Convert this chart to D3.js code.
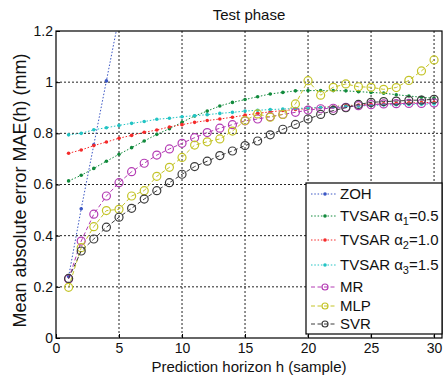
<!DOCTYPE html>
<html>
<head>
<meta charset="utf-8">
<script src="https://cdn.jsdelivr.net/npm/d3@7"></script>
<style>
  html, body { margin: 0; padding: 0; background: #fff; }
  svg { display: block; font-family: "Liberation Sans", Arial, sans-serif; }
</style>
</head>
<body>
<svg id="chart" width="444" height="378"></svg>
<script>
// Prediction horizon h (samples)
const horizon = d3.range(1, 31);

// Mean absolute error per horizon for each predictor (mm)
const zoh = [0.24, 0.505, 0.755, 1.005, 1.255, 1.505];
const tvsar1 = [0.614, 0.636, 0.663, 0.691, 0.718, 0.744, 0.770, 0.796, 0.818, 0.843,
  0.868, 0.887, 0.907, 0.921, 0.932, 0.943, 0.954, 0.960, 0.966, 0.967,
  0.967, 0.967, 0.966, 0.963, 0.960, 0.957, 0.951, 0.946, 0.941, 0.937];
const tvsar2 = [0.722, 0.735, 0.752, 0.766, 0.781, 0.792, 0.804, 0.813, 0.825, 0.834,
  0.843, 0.850, 0.856, 0.863, 0.871, 0.878, 0.884, 0.889, 0.893, 0.897,
  0.901, 0.905, 0.908, 0.911, 0.913, 0.915, 0.917, 0.919, 0.920, 0.921];
const tvsar3 = [0.794, 0.800, 0.814, 0.822, 0.831, 0.839, 0.846, 0.855, 0.859, 0.865,
  0.869, 0.873, 0.878, 0.882, 0.887, 0.890, 0.893, 0.895, 0.897, 0.899,
  0.901, 0.903, 0.905, 0.907, 0.909, 0.911, 0.912, 0.913, 0.914, 0.915];
const mr = [0.231, 0.379, 0.484, 0.555, 0.607, 0.650, 0.683, 0.715, 0.739, 0.761,
  0.783, 0.803, 0.820, 0.834, 0.849, 0.856, 0.865, 0.874, 0.882, 0.891,
  0.896, 0.898, 0.902, 0.908, 0.912, 0.915, 0.916, 0.917, 0.917, 0.919];
const mlp = [0.198, 0.353, 0.435, 0.498, 0.503, 0.555, 0.576, 0.632, 0.667, 0.706,
  0.754, 0.767, 0.778, 0.809, 0.850, 0.876, 0.863, 0.874, 0.915, 1.006,
  0.949, 0.980, 0.993, 0.982, 0.980, 0.972, 0.979, 1.007, 1.044, 1.087];
const svr = [0.233, 0.340, 0.387, 0.433, 0.472, 0.507, 0.543, 0.576, 0.607, 0.640,
  0.670, 0.691, 0.713, 0.731, 0.752, 0.770, 0.794, 0.816, 0.835, 0.856,
  0.874, 0.889, 0.900, 0.913, 0.921, 0.924, 0.926, 0.929, 0.930, 0.933];

const xTicks = [0, 5, 10, 15, 20, 25, 30];
const yTicks = [0, 0.2, 0.4, 0.6, 0.8, 1, 1.2];

const series = [
  { name: "ZOH", sub: null, values: zoh, color: "#3a56c4", dash: "1.5,1.8", marker: "dot" },
  { name: "TVSAR α", sub: "1", rest: "=0.5", values: tvsar1, color: "#118a3c", dash: "1.5,1.8", marker: "dot" },
  { name: "TVSAR α", sub: "2", rest: "=1.0", values: tvsar2, color: "#f52a2a", dash: "1.5,1.8", marker: "dot" },
  { name: "TVSAR α", sub: "3", rest: "=1.5", values: tvsar3, color: "#22c4c4", dash: "1.5,1.8", marker: "dot" },
  { name: "MR", sub: null, values: mr, color: "#b43cb4", dash: "4,2.5", marker: "circle" },
  { name: "MLP", sub: null, values: mlp, color: "#c4c428", dash: "4,2.5", marker: "circle" },
  { name: "SVR", sub: null, values: svr, color: "#3c3c3c", dash: "4,2.5", marker: "circle" }
];

const svg = d3.select("#chart");
const plotLeft = 56, plotRight = 442, plotTop = 31, plotBottom = 338;

const x = d3.scaleLinear().domain([0, 30.63]).range([plotLeft, plotRight]);
const y = d3.scaleLinear().domain([0, 1.2]).range([plotBottom, plotTop]);

// clip region for the data lines
svg.append("defs").append("clipPath").attr("id", "plotClip")
  .append("rect").attr("x", plotLeft).attr("y", plotTop)
  .attr("width", plotRight - plotLeft).attr("height", plotBottom - plotTop);

// grid
const grid = svg.append("g");
grid.selectAll("line.gx").data(xTicks.slice(1)).join("line")
  .attr("x1", d => x(d)).attr("x2", d => x(d)).attr("y1", plotTop).attr("y2", plotBottom)
  .attr("stroke", "#222").attr("stroke-width", 1).attr("stroke-dasharray", "2,2");
grid.selectAll("line.gy").data(yTicks.slice(1, -1)).join("line")
  .attr("x1", plotLeft).attr("x2", plotRight).attr("y1", d => y(d)).attr("y2", d => y(d))
  .attr("stroke", "#222").attr("stroke-width", 1).attr("stroke-dasharray", "2,2");

// axes with inward ticks
const xAxis = svg.append("g").attr("transform", `translate(0,${plotBottom})`)
  .call(d3.axisBottom(x).tickValues(xTicks).tickSizeInner(-4).tickSizeOuter(0).tickPadding(5).tickFormat(d3.format("d")));
const yAxis = svg.append("g").attr("transform", `translate(${plotLeft},0)`)
  .call(d3.axisLeft(y).tickValues(yTicks).tickSizeInner(-4).tickSizeOuter(0).tickPadding(3).tickFormat(d => d === 0 ? "0" : d3.format("~g")(d)));
[xAxis, yAxis].forEach(a => {
  a.select(".domain").remove();
  a.selectAll("line").attr("stroke", "#000");
  a.selectAll("text").attr("font-size", 14).attr("fill", "#111")
    .attr("font-family", "'Liberation Sans', Arial, sans-serif");
});
yAxis.selectAll("text").attr("dy", "0.32em");
xAxis.selectAll("text").attr("dy", "0.71em");

// series
const plot = svg.append("g").attr("clip-path", "url(#plotClip)");
const line = d3.line().x((d, i) => x(horizon[i])).y(d => y(d));
series.forEach(s => {
  const g = plot.append("g");
  g.append("path").datum(s.values).attr("d", line)
    .attr("fill", "none").attr("stroke", s.color).attr("stroke-width", 1)
    .attr("stroke-dasharray", s.dash);
  if (s.marker === "dot") {
    g.selectAll("circle").data(s.values).join("circle")
      .attr("cx", (d, i) => x(horizon[i])).attr("cy", d => y(d)).attr("r", 1.8)
      .attr("fill", s.color);
  } else {
    g.selectAll("circle").data(s.values).join("circle")
      .attr("cx", (d, i) => x(horizon[i])).attr("cy", d => y(d)).attr("r", 4)
      .attr("fill", "none").attr("stroke", s.color).attr("stroke-width", 1.2);
  }
});

// frame
svg.append("rect").attr("x", plotLeft).attr("y", plotTop)
  .attr("width", plotRight - plotLeft).attr("height", plotBottom - plotTop)
  .attr("fill", "none").attr("stroke", "#000").attr("stroke-width", 1.2);

// titles
svg.append("text").attr("x", 249).attr("y", 19.5).attr("text-anchor", "middle")
  .attr("font-size", 15).attr("fill", "#111").text("Test phase");
svg.append("text").attr("x", 249).attr("y", 372).attr("text-anchor", "middle")
  .attr("font-size", 15).attr("fill", "#111").text("Prediction horizon h (sample)");
svg.append("text").attr("transform", `translate(26,${(plotTop + plotBottom) / 2 + 6}) rotate(-90)`)
  .attr("text-anchor", "middle").attr("font-size", 18).attr("fill", "#111")
  .text("Mean absolute error MAE(h) (mm)");

// legend
const lg = svg.append("g");
lg.append("rect").attr("x", 306).attr("y", 183).attr("width", 136).attr("height", 151)
  .attr("fill", "#fff").attr("stroke", "#000").attr("stroke-width", 1.2);
const rowY = [194, 216, 240, 265, 287, 306, 324];
series.forEach((s, i) => {
  const yy = rowY[i];
  lg.append("line").attr("x1", 311).attr("x2", 337).attr("y1", yy).attr("y2", yy)
    .attr("stroke", s.color).attr("stroke-width", 1).attr("stroke-dasharray", s.dash);
  if (s.marker === "dot") {
    lg.append("circle").attr("cx", 325).attr("cy", yy).attr("r", 1.8).attr("fill", s.color);
  } else {
    lg.append("circle").attr("cx", 325).attr("cy", yy).attr("r", 3)
      .attr("fill", "none").attr("stroke", s.color).attr("stroke-width", 1.2);
  }
  const t = lg.append("text").attr("x", 340).attr("y", yy).attr("dy", "0.36em")
    .attr("font-size", 15).attr("fill", "#111");
  t.append("tspan").text(s.name);
  if (s.sub) {
    t.append("tspan").attr("font-size", 11).attr("dy", 4).text(s.sub);
    t.append("tspan").attr("dy", -4).text(s.rest);
  }
});
</script>
</body>
</html>
